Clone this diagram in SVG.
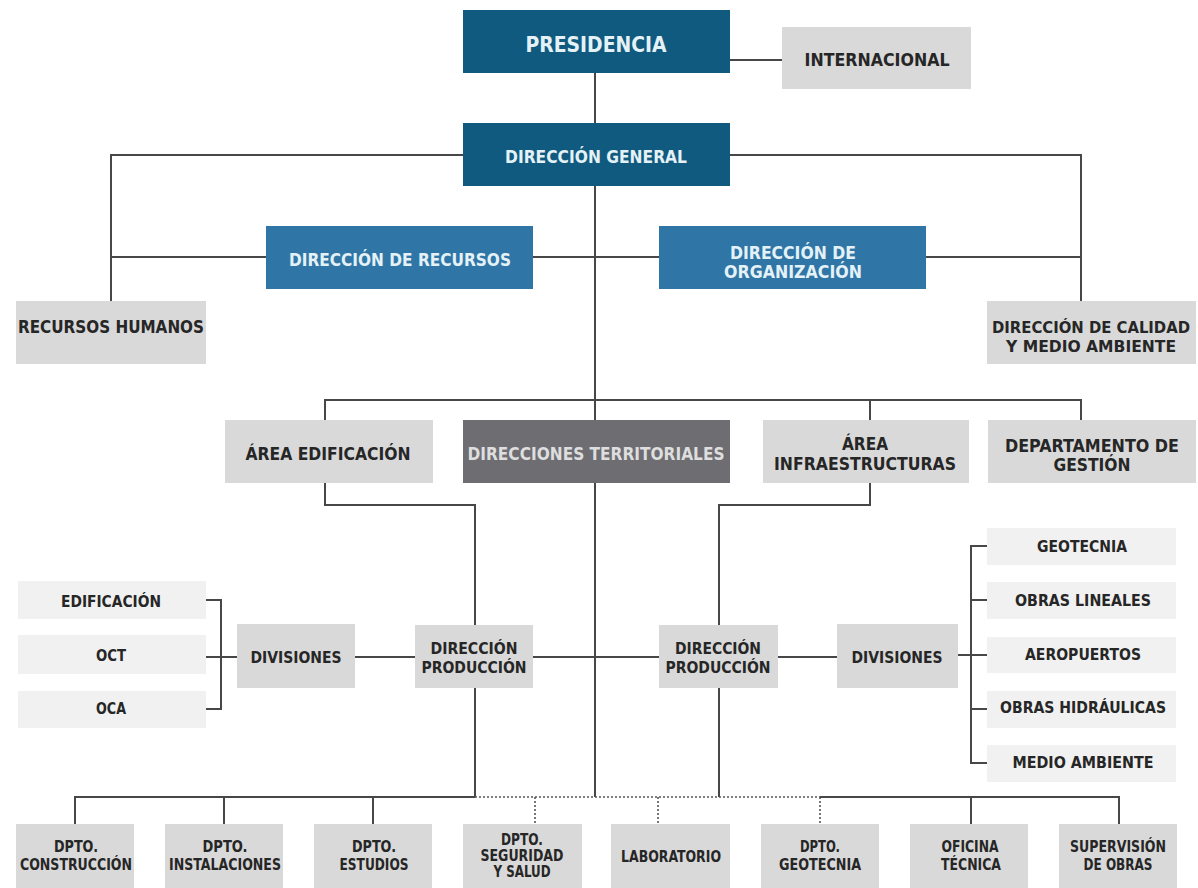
<svg xmlns="http://www.w3.org/2000/svg" width="1198" height="888" viewBox="0 0 1198 888">
<style>
text{font-family:"DejaVu Sans Condensed","DejaVu Sans","Liberation Sans",sans-serif;font-weight:bold;text-anchor:middle}
.dk{fill:#105a7f}.md{fill:#2f76a6}.gr{fill:#d9d9d9}.lt{fill:#f1f1f1}.tr{fill:#6d6d72}
.wt{fill:#e4f2f8}.bk{fill:#262626}.tt{fill:#dedede}
.ln{stroke:#474747;stroke-width:2;fill:none}
.dt{stroke:#555;stroke-width:1.6;fill:none;stroke-dasharray:2 2}
</style>
<rect width="1198" height="888" fill="#ffffff"/>
<g id="connectors">
<path class="ln" d="M730 60H782"/>
<path class="ln" d="M595 73V797"/>
<path class="ln" d="M463 155H111V301M730 155H1081V301"/>
<path class="ln" d="M111 257H266M533 257H659M926 257H1081"/>
<path class="ln" d="M325 420V400H1081V420M870 400V420"/>
<path class="ln" d="M325 483V505H475V625M870 483V505H719V625"/>
<path class="ln" d="M355 657H415M533 657H659M778 657H837"/>
<path class="ln" d="M206 600H221V709H206M206 657H237"/>
<path class="ln" d="M987 546H971V763H987M971 600H987M958 655H987M971 709H987"/>
<path class="ln" d="M475 688V797M719 688V797"/>
<path class="ln" d="M475 797H75V824M224 797V824M373 797V824"/>
<path class="ln" d="M820 797H1119V824M971 797V824"/>
<path class="dt" d="M475 797H820M535 797V824M658 797V824M820 797V824"/>
</g>
<g id="presidencia"><rect class="dk" x="463" y="10" width="267" height="63"/><text class="wt" x="596" y="52" font-size="21" textLength="141" lengthAdjust="spacingAndGlyphs">PRESIDENCIA</text></g>
<g id="internacional"><rect class="gr" x="782" y="27" width="189" height="62"/><text class="bk" x="877" y="66" font-size="18" textLength="145" lengthAdjust="spacingAndGlyphs">INTERNACIONAL</text></g>
<g id="direccion-general"><rect class="dk" x="463" y="123" width="267" height="63"/><text class="wt" x="596" y="163" font-size="17" textLength="182" lengthAdjust="spacingAndGlyphs">DIRECCIÓN GENERAL</text></g>
<g id="direccion-recursos"><rect class="md" x="266" y="226" width="267" height="63"/><text class="wt" x="400" y="266" font-size="17" textLength="222" lengthAdjust="spacingAndGlyphs">DIRECCIÓN DE RECURSOS</text></g>
<g id="direccion-organizacion"><rect class="md" x="659" y="226" width="267" height="63"/><text class="wt" x="793" y="259" font-size="17" textLength="126" lengthAdjust="spacingAndGlyphs">DIRECCIÓN DE</text><text class="wt" x="793" y="278" font-size="17" textLength="138" lengthAdjust="spacingAndGlyphs">ORGANIZACIÓN</text></g>
<g id="recursos-humanos"><rect class="gr" x="16" y="301" width="190" height="63"/><text class="bk" x="111" y="333" font-size="18" textLength="186" lengthAdjust="spacingAndGlyphs">RECURSOS HUMANOS</text></g>
<g id="calidad"><rect class="gr" x="987" y="301" width="209" height="63"/><text class="bk" x="1091" y="333" font-size="16" textLength="198" lengthAdjust="spacingAndGlyphs">DIRECCIÓN DE CALIDAD</text><text class="bk" x="1091" y="352" font-size="16" textLength="170" lengthAdjust="spacingAndGlyphs">Y MEDIO AMBIENTE</text></g>
<g id="area-edificacion"><rect class="gr" x="225" y="420" width="208" height="63"/><text class="bk" x="328" y="460" font-size="18" textLength="165" lengthAdjust="spacingAndGlyphs">ÁREA EDIFICACIÓN</text></g>
<g id="direcciones-territoriales"><rect class="tr" x="463" y="420" width="267" height="63"/><text class="tt" x="596" y="460" font-size="18" textLength="257" lengthAdjust="spacingAndGlyphs">DIRECCIONES TERRITORIALES</text></g>
<g id="area-infraestructuras"><rect class="gr" x="763" y="420" width="206" height="63"/><text class="bk" x="865" y="450" font-size="18" textLength="46" lengthAdjust="spacingAndGlyphs">ÁREA</text><text class="bk" x="865" y="470" font-size="18" textLength="182" lengthAdjust="spacingAndGlyphs">INFRAESTRUCTURAS</text></g>
<g id="departamento-gestion"><rect class="gr" x="988" y="420" width="208" height="63"/><text class="bk" x="1092" y="452" font-size="18" textLength="174" lengthAdjust="spacingAndGlyphs">DEPARTAMENTO DE</text><text class="bk" x="1092" y="471" font-size="18" textLength="77" lengthAdjust="spacingAndGlyphs">GESTIÓN</text></g>
<g id="edificacion"><rect class="lt" x="18" y="581" width="188" height="38"/><text class="bk" x="111" y="607" font-size="16" textLength="100" lengthAdjust="spacingAndGlyphs">EDIFICACIÓN</text></g>
<g id="oct"><rect class="lt" x="18" y="635" width="188" height="39"/><text class="bk" x="111" y="661" font-size="16" textLength="30" lengthAdjust="spacingAndGlyphs">OCT</text></g>
<g id="oca"><rect class="lt" x="18" y="691" width="188" height="37"/><text class="bk" x="111" y="714" font-size="16" textLength="30" lengthAdjust="spacingAndGlyphs">OCA</text></g>
<g id="divisiones-izq"><rect class="gr" x="237" y="624" width="118" height="64"/><text class="bk" x="296" y="663" font-size="16" textLength="91" lengthAdjust="spacingAndGlyphs">DIVISIONES</text></g>
<g id="produccion-izq"><rect class="gr" x="415" y="625" width="118" height="63"/><text class="bk" x="474" y="654" font-size="16" textLength="87" lengthAdjust="spacingAndGlyphs">DIRECCIÓN</text><text class="bk" x="474" y="673" font-size="16" textLength="105" lengthAdjust="spacingAndGlyphs">PRODUCCIÓN</text></g>
<g id="produccion-der"><rect class="gr" x="659" y="625" width="119" height="63"/><text class="bk" x="718" y="654" font-size="16" textLength="86" lengthAdjust="spacingAndGlyphs">DIRECCIÓN</text><text class="bk" x="718" y="673" font-size="16" textLength="105" lengthAdjust="spacingAndGlyphs">PRODUCCIÓN</text></g>
<g id="divisiones-der"><rect class="gr" x="837" y="624" width="121" height="64"/><text class="bk" x="897" y="663" font-size="16" textLength="91" lengthAdjust="spacingAndGlyphs">DIVISIONES</text></g>
<g id="geotecnia"><rect class="lt" x="987" y="528" width="189" height="37"/><text class="bk" x="1082" y="552" font-size="15" textLength="90" lengthAdjust="spacingAndGlyphs">GEOTECNIA</text></g>
<g id="obras-lineales"><rect class="lt" x="987" y="582" width="189" height="37"/><text class="bk" x="1083" y="606" font-size="15" textLength="136" lengthAdjust="spacingAndGlyphs">OBRAS LINEALES</text></g>
<g id="aeropuertos"><rect class="lt" x="987" y="637" width="189" height="36"/><text class="bk" x="1083" y="660" font-size="15" textLength="116" lengthAdjust="spacingAndGlyphs">AEROPUERTOS</text></g>
<g id="obras-hidraulicas"><rect class="lt" x="987" y="691" width="189" height="37"/><text class="bk" x="1083" y="713" font-size="15" textLength="166" lengthAdjust="spacingAndGlyphs">OBRAS HIDRÁULICAS</text></g>
<g id="medio-ambiente"><rect class="lt" x="987" y="745" width="189" height="37"/><text class="bk" x="1083" y="768" font-size="15" textLength="141" lengthAdjust="spacingAndGlyphs">MEDIO AMBIENTE</text></g>
<g id="dpto-construccion"><rect class="gr" x="16" y="824" width="118" height="64"/><text class="bk" x="76" y="852" font-size="15" textLength="44" lengthAdjust="spacingAndGlyphs">DPTO.</text><text class="bk" x="76" y="870" font-size="15" textLength="112" lengthAdjust="spacingAndGlyphs">CONSTRUCCIÓN</text></g>
<g id="dpto-instalaciones"><rect class="gr" x="165" y="824" width="118" height="64"/><text class="bk" x="225" y="852" font-size="15" textLength="45" lengthAdjust="spacingAndGlyphs">DPTO.</text><text class="bk" x="225" y="870" font-size="15" textLength="112" lengthAdjust="spacingAndGlyphs">INSTALACIONES</text></g>
<g id="dpto-estudios"><rect class="gr" x="314" y="824" width="118" height="64"/><text class="bk" x="374" y="852" font-size="15" textLength="44" lengthAdjust="spacingAndGlyphs">DPTO.</text><text class="bk" x="374" y="870" font-size="15" textLength="69" lengthAdjust="spacingAndGlyphs">ESTUDIOS</text></g>
<g id="dpto-seguridad"><rect class="gr" x="463" y="824" width="119" height="64"/><text class="bk" x="522" y="845" font-size="15" textLength="42" lengthAdjust="spacingAndGlyphs">DPTO.</text><text class="bk" x="522" y="861" font-size="15" textLength="83" lengthAdjust="spacingAndGlyphs">SEGURIDAD</text><text class="bk" x="522" y="877" font-size="15" textLength="57" lengthAdjust="spacingAndGlyphs">Y SALUD</text></g>
<g id="laboratorio"><rect class="gr" x="611" y="824" width="119" height="64"/><text class="bk" x="671" y="862" font-size="15" textLength="100" lengthAdjust="spacingAndGlyphs">LABORATORIO</text></g>
<g id="dpto-geotecnia"><rect class="gr" x="761" y="824" width="118" height="64"/><text class="bk" x="820" y="852" font-size="15" textLength="40" lengthAdjust="spacingAndGlyphs">DPTO.</text><text class="bk" x="820" y="870" font-size="15" textLength="82" lengthAdjust="spacingAndGlyphs">GEOTECNIA</text></g>
<g id="oficina-tecnica"><rect class="gr" x="910" y="824" width="118" height="64"/><text class="bk" x="970" y="852" font-size="15" textLength="57" lengthAdjust="spacingAndGlyphs">OFICINA</text><text class="bk" x="971" y="870" font-size="15" textLength="60" lengthAdjust="spacingAndGlyphs">TÉCNICA</text></g>
<g id="supervision-obras"><rect class="gr" x="1059" y="824" width="118" height="64"/><text class="bk" x="1118" y="852" font-size="15" textLength="96" lengthAdjust="spacingAndGlyphs">SUPERVISIÓN</text><text class="bk" x="1118" y="870" font-size="15" textLength="69" lengthAdjust="spacingAndGlyphs">DE OBRAS</text></g>
</svg>
